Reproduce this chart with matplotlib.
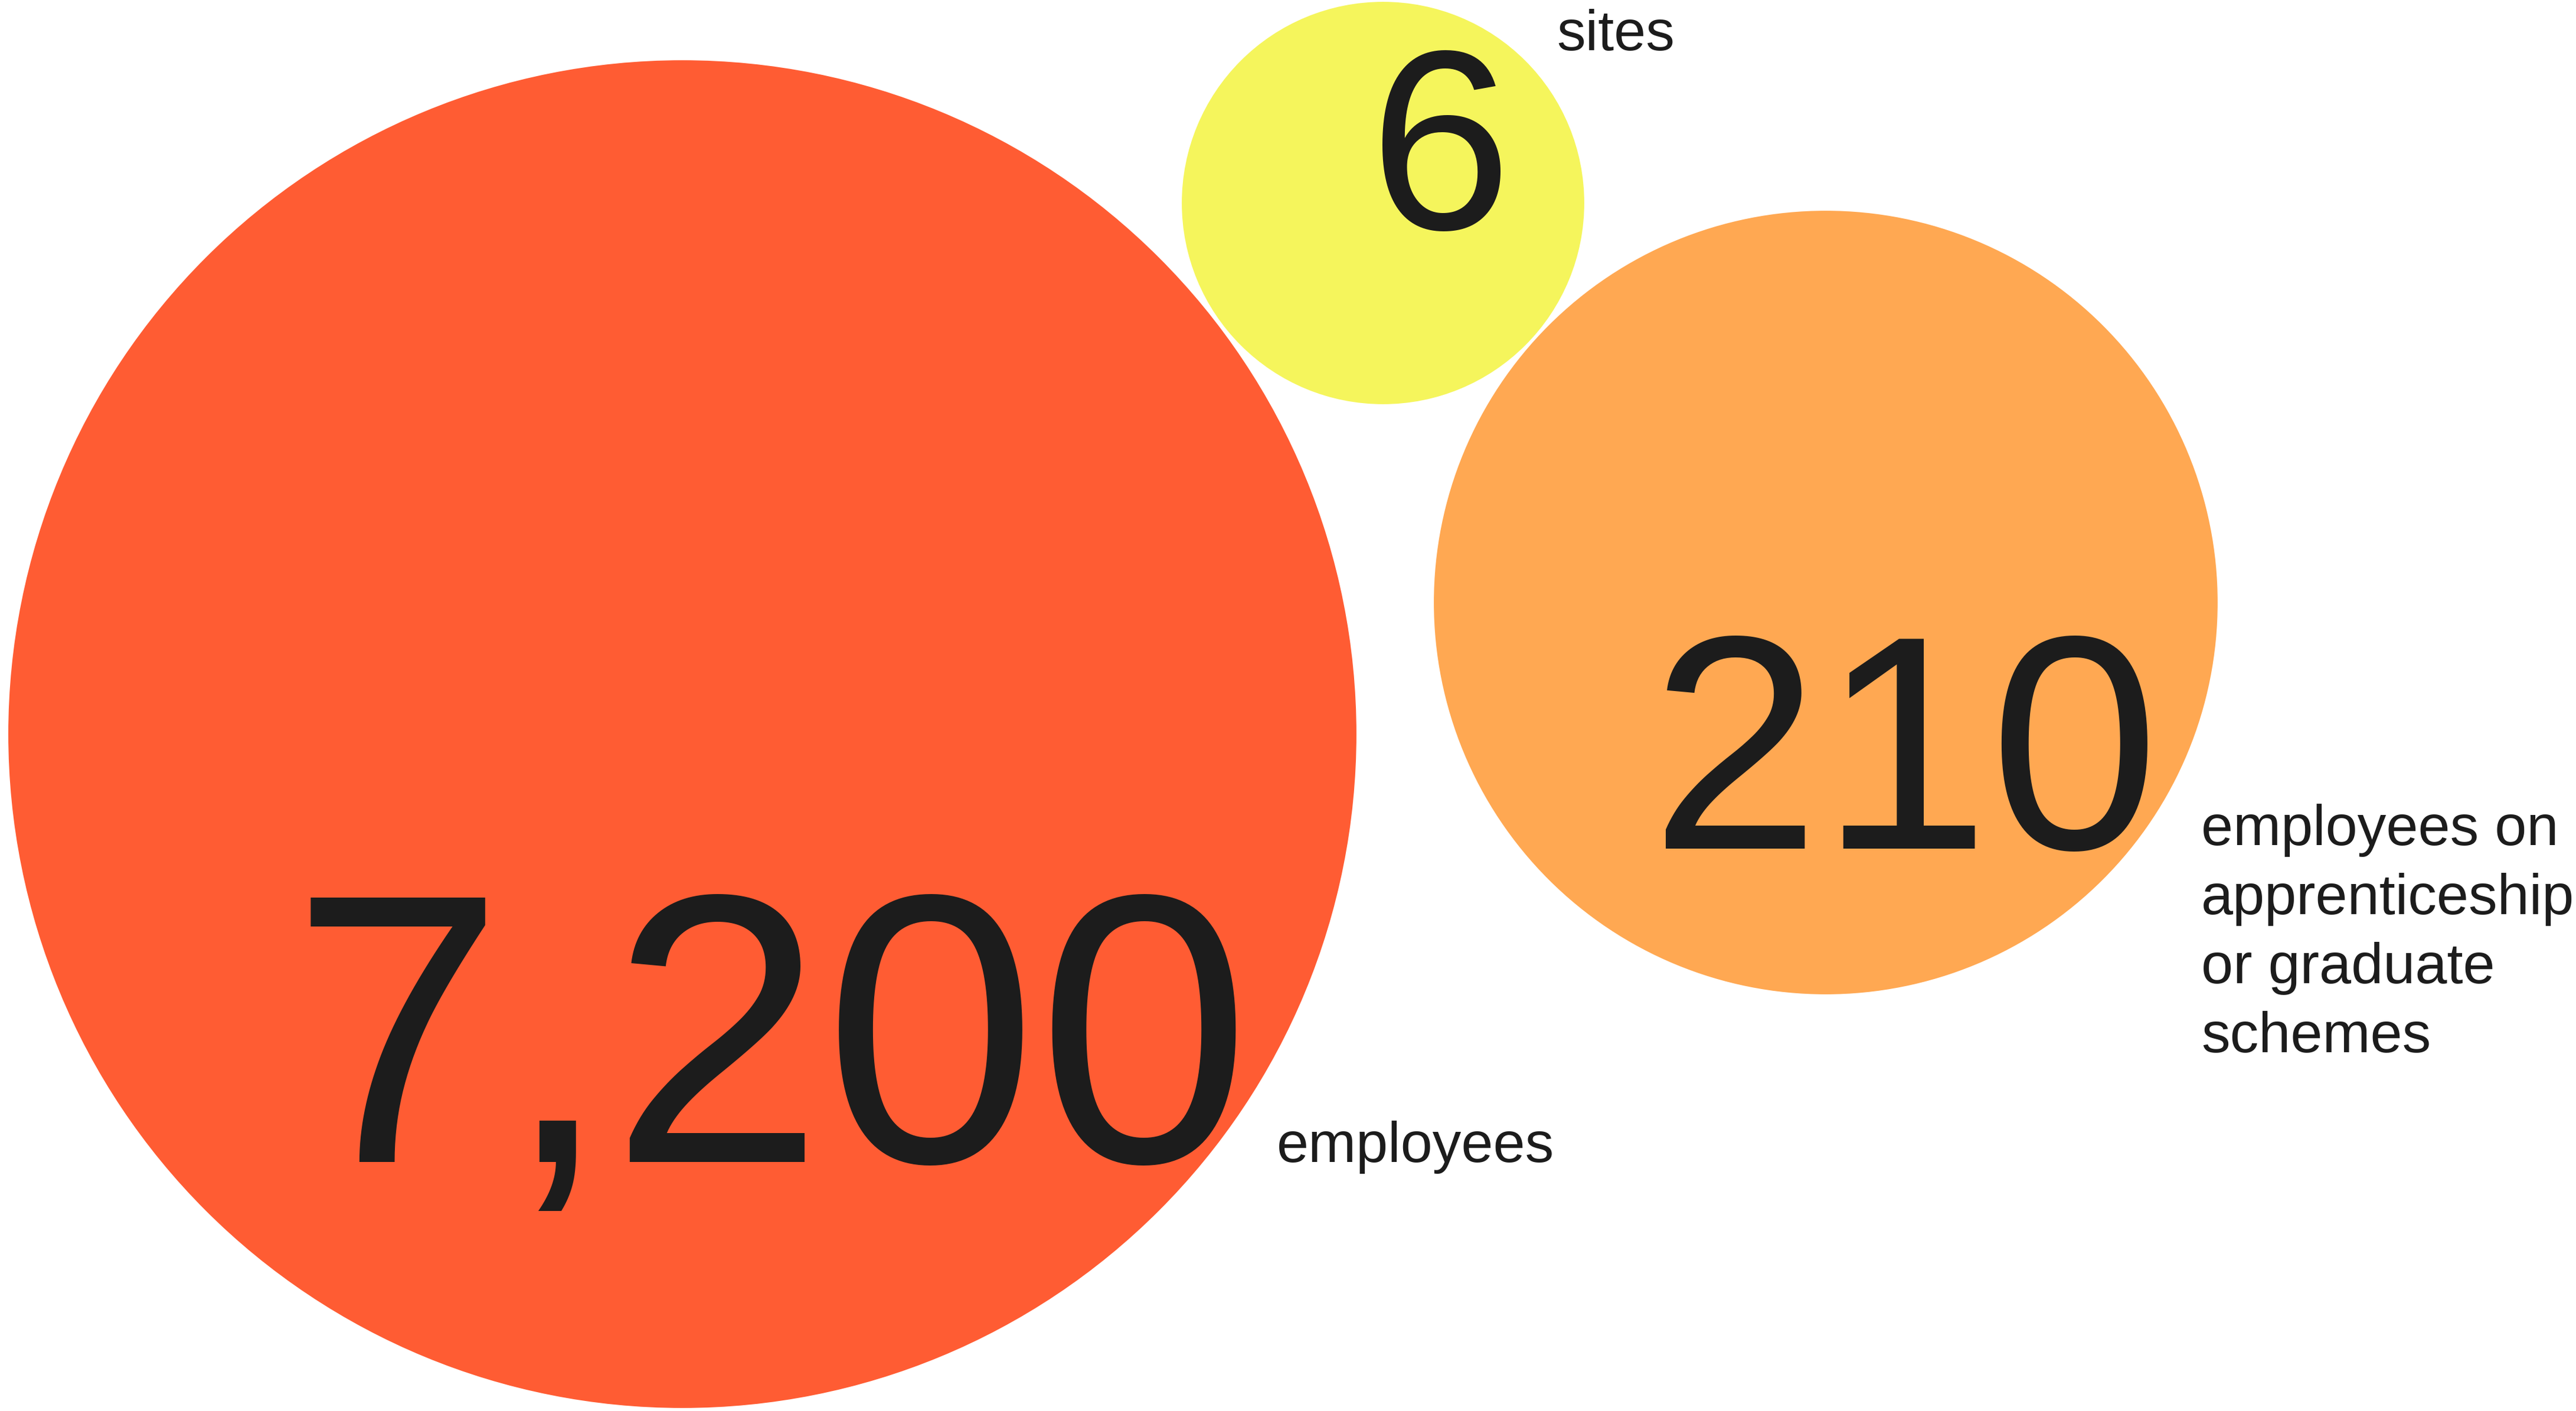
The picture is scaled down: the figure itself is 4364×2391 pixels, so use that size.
import matplotlib.pyplot as plt
from matplotlib.patches import Circle

# headline figures and their captions
values = ['7,200', '6', '210']
captions = ['employees', 'sites', 'employees on\napprenticeship\nor graduate\nschemes']
colors = ['#FF5C33', '#F5F55C', '#FFA852']

# bubble layout, in pixels from the top-left corner
centres = [(1156, 1244), (2343, 344), (3093, 1021)]
radii = [1144, 343, 666]

value_pos = [(1306, 1969), (2440, 388), (3227, 1438)]
value_size = [468, 312, 372]
# caption anchor = baseline of the last line
caption_pos = [(2163, 1969), (2637, 85), (3729, 1783)]

ink = '#1C1C1C'
font = 'Liberation Sans'

fig = plt.figure(figsize=(43.64, 23.91), dpi=100)
ax = fig.add_axes([0, 0, 1, 1])
ax.set_xlim(0, 4364)
ax.set_ylim(2391, 0)
ax.set_aspect('equal')
ax.axis('off')

for c, r, col in zip(centres, radii, colors):
    ax.add_patch(Circle(c, r, facecolor=col, edgecolor='white', linewidth=3))

for v, (x, y), s in zip(values, value_pos, value_size):
    ax.text(x, y, v, fontsize=s, family=font, color=ink, ha='center', va='baseline')

for cap, (x, y) in zip(captions, caption_pos):
    ax.text(x, y, cap, fontsize=70, family=font, color=ink,
            ha='left', va='baseline', linespacing=1.385)

fig.savefig('out.png', dpi=100)
